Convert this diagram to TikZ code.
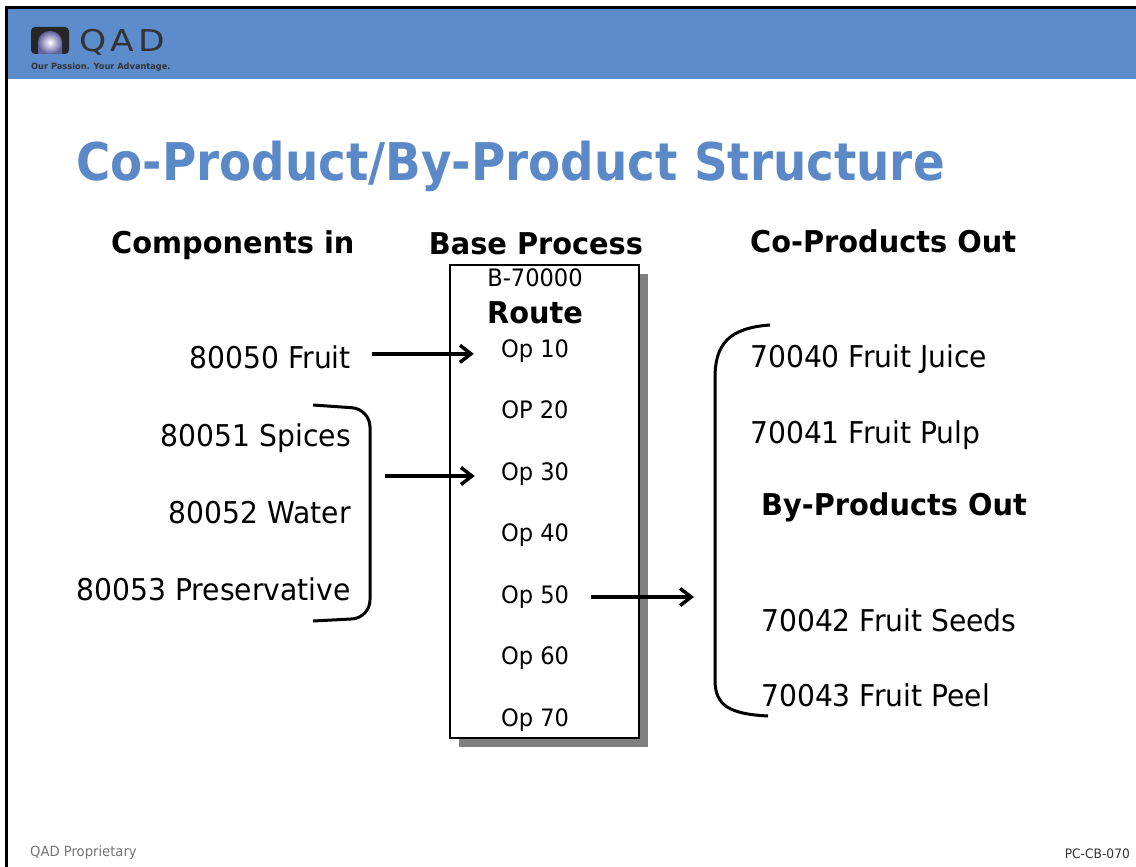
\documentclass[tikz,border=0pt]{standalone}
\usepackage{fontspec}
\setmainfont{DejaVu Sans}[FakeStretch=0.94, BoldFeatures={FakeStretch=0.96}]
\newfontfamily\titlefont{DejaVu Sans}[FakeStretch=0.9]
\newfontfamily\logofont{DejaVu Sans}[FakeStretch=1.15, LetterSpace=14]
\usetikzlibrary{arrows.meta}
\definecolor{qadblue}{RGB}{92,140,204}
\definecolor{titleblue}{RGB}{91,137,200}
\tikzset{>/.tip={Straight Barb[length=11pt,width=17pt]},
  lbl/.style={font=\fontsize{30}{30}\selectfont, inner sep=0pt},
  hdr/.style={font=\fontsize{30}{30}\selectfont\bfseries, inner sep=0pt},
  opl/.style={font=\fontsize{24}{24}\selectfont, inner sep=0pt},
  flow/.style={->, line width=3.5pt},
  brk/.style={line width=3pt}}

\begin{document}
\begin{tikzpicture}[x=1pt,y=-1pt]
\useasboundingbox (0,0) rectangle (1136,867);
% frame and banner
\fill[qadblue] (7,9) rectangle (1136,79);
\draw[line width=3pt] (5,7.5) -- (1136,7.5);
\draw[line width=2.5pt] (6.5,7) -- (6.5,867);
% logo
\fill[black!85, rounded corners=4pt] (31,27) rectangle (69,54);
\shade[inner color=white, outer color=blue!25!gray] (38,54) -- (38,42) arc (180:360:12 and 11) -- (62,54) -- cycle;
\node[anchor=base west, inner sep=0pt, text=black!80, font=\logofont\fontsize{30}{30}\selectfont] (qad) at (79,52) {QAD};
\node[anchor=base west, inner sep=0pt, text=black!80, font=\fontsize{8.6}{8.6}\selectfont\bfseries] (motto) at (31,70) {Our Passion. Your Advantage.};
% title
\node[anchor=base west, inner sep=0pt, text=titleblue, font=\titlefont\fontsize{52}{52}\selectfont\bfseries] (title) at (76,180) {Co-Product/By-Product Structure};

% column heads
\node[hdr, anchor=base west] (hin)   at (111,253) {Components in};
\node[hdr, anchor=base]      (hbase) at (536,254) {Base Process};
\node[hdr, anchor=base west] (hco)   at (750,252) {Co-Products Out};
\node[hdr, anchor=base west] (hby)   at (761,515) {By-Products Out};

% route box
\fill[gray] (459,274) rectangle (648,747);
\draw[fill=white, line width=1.3pt] (450,265) rectangle (639,738);
\node[opl, anchor=base] (item)  at (535,286) {B-70000};
\node[hdr, anchor=base] (route) at (535,323) {Route};
\foreach \n/\t [count=\i] in {op10/Op 10, op20/OP 20, op30/Op 30, op40/Op 40, op50/Op 50, op60/Op 60, op70/Op 70}
{
  \node[opl, anchor=base] (\n) at (535,{357+61.5*(\i-1)}) {\t};
}

% components
\node[lbl, anchor=base east] (fruit)  at (351,368) {80050 Fruit};
\node[lbl, anchor=base east] (spices) at (351,446) {80051 Spices};
\node[lbl, anchor=base east] (water)  at (351,523) {80052 Water};
\node[lbl, anchor=base east] (pres)   at (351,600) {80053 Preservative};

% outputs
\node[lbl, anchor=base west] (juice) at (750,367) {70040 Fruit Juice};
\node[lbl, anchor=base west] (pulp)  at (750,443) {70041 Fruit Pulp};
\node[lbl, anchor=base west] (seeds) at (761,631) {70042 Fruit Seeds};
\node[lbl, anchor=base west] (peel)  at (761,706) {70043 Fruit Peel};

% brackets
\draw[brk, rounded corners=18pt] (313,405) -- (370,409) -- (370,618) -- (313,621);
\draw[brk] (770,325) .. controls (728,328) and (715,345) .. (715,378) -- (715,680) .. controls (715,706) and (730,714) .. (768,716);
\coordinate (mix) at (385,476);
\coordinate (out) at (694,597);

% arrows
\draw[flow, shorten <=21pt, shorten >=27pt] ([yshift=3pt]fruit.east) -- ([yshift=3pt]fruit.east -| op10.west);
\draw[flow, shorten >=26pt] (mix) -- (mix -| op30.west);
\draw[flow, shorten <=22pt] (op50.east |- out) -- (out);

% footer
\node[anchor=base west, inner sep=0pt, text=black!55, font=\fontsize{14}{14}\selectfont] (prop) at (30,856) {QAD Proprietary};
\node[anchor=base east, inner sep=0pt, text=black!80, font=\fontsize{13}{13}\selectfont] (code) at (1130,858) {PC-CB-070};
\end{tikzpicture}
\end{document}
